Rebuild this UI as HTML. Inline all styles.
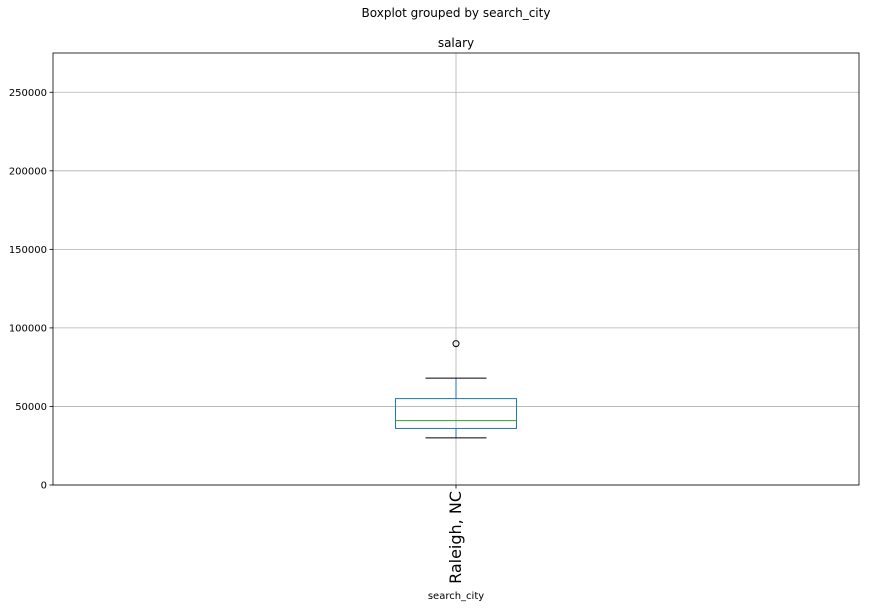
<!DOCTYPE html>
<html><head><meta charset="utf-8"><style>
body{margin:0;background:#fff;}
svg text{font-family:"DejaVu Sans","Liberation Sans",sans-serif;}
</style></head><body>
<svg id="chart" width="869" height="608" xmlns="http://www.w3.org/2000/svg">
<text x="456" y="17" font-size="12" text-anchor="middle">Boxplot grouped by search_city</text>
<text x="456" y="47" font-size="12" text-anchor="middle">salary</text>
<g id="grid"></g>
<g id="ticks"></g>
<g id="box"></g>
<rect x="53" y="53" width="806" height="432" fill="none" stroke="#000" stroke-width="0.8"/>
<text x="0" y="0" font-size="16" text-anchor="end" transform="translate(461,491) rotate(-90)">Raleigh, NC</text>
<text x="456" y="599" font-size="10" text-anchor="middle">search_city</text>
</svg>
<script>
const categories = ["Raleigh, NC"];
const whiskerLow = [30000];
const q1 = [36000];
const median = [41000];
const q3 = [55000];
const whiskerHigh = [68000];
const outliers = [[90000]];
const yTicks = [0, 50000, 100000, 150000, 200000, 250000];

const NS = "http://www.w3.org/2000/svg";
const L = 53, R = 859, T = 53, B = 485, YMAX = 275000;
const y = v => B - v / YMAX * (B - T);
const x = i => L + (R - L) * (i + 1) / (categories.length + 1);
function mk(tag, attrs, parent) {
  const e = document.createElementNS(NS, tag);
  for (const k in attrs) e.setAttribute(k, attrs[k]);
  document.getElementById(parent).appendChild(e);
  return e;
}
yTicks.forEach(t => {
  const g = mk("line", {x1: L, x2: R, y1: y(t), y2: y(t), stroke: "#b0b0b0", "stroke-width": 0.8}, "grid");
  
  
  const tk = mk("line", {x1: L - 3.5, x2: L, y1: y(t), y2: y(t), stroke: "#000", "stroke-width": 0.8}, "ticks");
  
  
  const lb = mk("text", {x: L - 6, y: y(t) + 3.5, "font-size": 10, "text-anchor": "end"}, "ticks");
  lb.textContent = t;
  
  
});
categories.forEach((c, i) => {
  const cx = x(i);
  const vg = mk("line", {x1: cx, x2: cx, y1: T, y2: B, stroke: "#b0b0b0", "stroke-width": 0.8}, "grid");
  
  
  const xt = mk("line", {x1: cx, x2: cx, y1: B, y2: B + 3.5, stroke: "#000", "stroke-width": 0.8}, "ticks");
  
  
  const hw = 60.5, cw = 30.5;
  const w1 = mk("line", {x1: cx, x2: cx, y1: y(q1[i]), y2: y(whiskerLow[i]), stroke: "#1f77b4", "stroke-width": 1}, "box");
  
  
  const w2 = mk("line", {x1: cx, x2: cx, y1: y(q3[i]), y2: y(whiskerHigh[i]), stroke: "#1f77b4", "stroke-width": 1}, "box");
  
  
  const c1 = mk("line", {x1: cx - cw, x2: cx + cw, y1: y(whiskerLow[i]), y2: y(whiskerLow[i]), stroke: "#000", "stroke-width": 1}, "box");
  
  
  const c2 = mk("line", {x1: cx - cw, x2: cx + cw, y1: y(whiskerHigh[i]), y2: y(whiskerHigh[i]), stroke: "#000", "stroke-width": 1}, "box");
  
  
  const bx = mk("rect", {x: cx - hw, y: y(q3[i]), width: 2 * hw, height: y(q1[i]) - y(q3[i]), fill: "none", stroke: "#1f77b4", "stroke-width": 1}, "box");
  
  
  const md = mk("line", {x1: cx - hw, x2: cx + hw, y1: y(median[i]), y2: y(median[i]), stroke: "#2ca02c", "stroke-width": 1}, "box");
  
  
  outliers[i].forEach(o => {
    const p = mk("circle", {cx: cx, cy: y(o), r: 3, fill: "none", stroke: "#000", "stroke-width": 1}, "box");
    
    
  });
});
</script>
</body></html>
